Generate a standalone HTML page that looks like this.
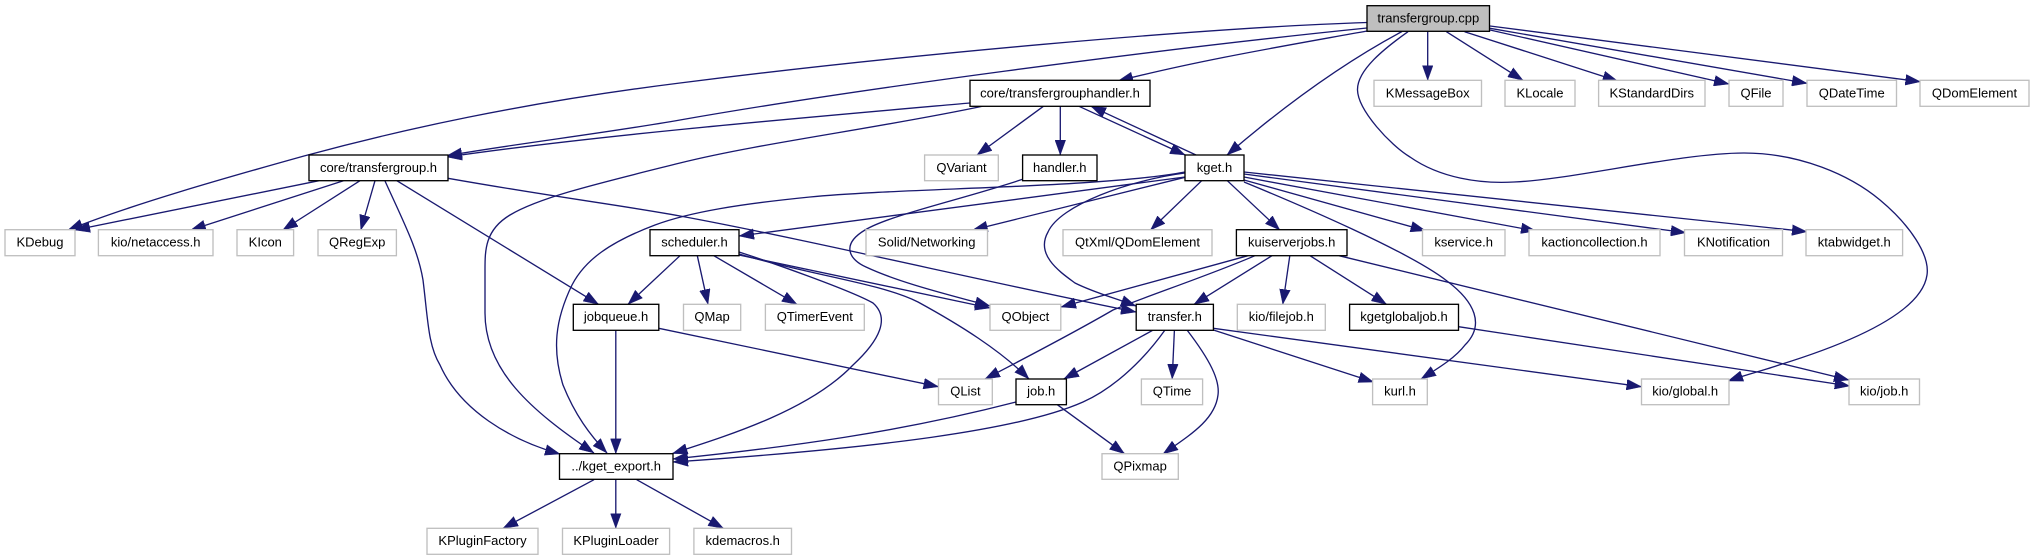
<!DOCTYPE html>
<html><head><meta charset="utf-8"><style>
html,body{margin:0;padding:0;background:#fff}
svg{display:block;filter:blur(0.35px)}
text{font-family:"Liberation Sans",Arial,sans-serif;font-size:13px;fill:#000;text-anchor:middle;transform:translateY(-0.7px)}
.g{fill:#fff;stroke:#bfbfbf;stroke-width:1.33}
.b{fill:#fff;stroke:#000;stroke-width:1.33}
.r{fill:#bfbfbf;stroke:#000;stroke-width:1.33}
path{fill:none;stroke:#191970;stroke-width:1.33;marker-end:url(#a)}
</style></head><body>
<svg width="2034" height="560" viewBox="0 0 2034 560" xmlns="http://www.w3.org/2000/svg">
<defs><marker id="a" markerUnits="userSpaceOnUse" markerWidth="15" markerHeight="11" viewBox="0 0 14.5 10.4" refX="14.5" refY="5.2" orient="auto"><polygon points="0,0 14.5,5.2 0,10.4" fill="#191970" stroke="#191970" stroke-width="0.4"/></marker></defs>

<!-- edges from root -->
<path d="M1367,22.5C1200,28 900,55 680,83C520,103 400,130 304,156C225,178 130,205 68,230"/>
<path d="M1367,28C1150,50 850,90 680,120C600,134 520,143 447,155.7"/>
<path d="M1367,31C1290,45 1200,60 1118,81"/>
<path d="M1402,31.5C1345,62 1285,105 1227,155"/>
<path d="M1408,31.7C1385,48 1357,70 1357.5,90C1358,110 1390,145 1410,157C1440,178 1480,184 1514,182C1570,180 1680,153 1744,153C1800,153 1850,175 1880,200C1910,225 1930,255 1927,275C1922,310 1860,340 1779,365C1765,370 1745,375 1728,381"/>
<path d="M1427.7,31.3L1427.7,80.3"/>
<path d="M1446.4,31.7L1523,80.3"/>
<path d="M1464.6,31.7L1617.7,81"/>
<path d="M1490,30L1729,84"/>
<path d="M1490,28.3L1807,83.3"/>
<path d="M1490,26L1920.4,81.7"/>

<!-- handler -->
<path d="M970,103C800,118 600,135 447,157"/>
<path d="M1043.4,106.3L977,155"/>
<path d="M1060.3,106.3L1060.3,155"/>
<path d="M1079,106.3L1185.2,155"/>
<path d="M1196,155L1091,106.3"/>
<path d="M983.6,106C880,128 760,143 680,163C600,183 540,197 510,215C485,230 485,250 485,270L485,313C485,370 530,410 594,453"/>
<path d="M1022.6,179.3C960,200 890,215 865,230C840,245 850,260 866,267C900,283 950,295 990,306"/>

<!-- kget -->
<path d="M1185,173C1130,180 1060,205 1048,232C1035,255 1060,272 1075,283C1095,293 1115,298 1136,306"/>
<path d="M1185,177L739,236"/>
<path d="M1185,172C1100,188 900,188 810,197C740,204 690,212 655,225C610,242 585,260 572,285C555,320 552,350 563,385C575,415 590,435 607,453"/>
<path d="M1185,177.3L972.7,230"/>
<path d="M1201.7,180.7L1150.5,230"/>
<path d="M1227.3,180.7L1279.8,230"/>
<path d="M1244,180L1425.6,230.7"/>
<path d="M1244,177L1536,231"/>
<path d="M1244,174L1685.8,232.7"/>
<path d="M1244,172L1807,231.7"/>
<path d="M1244,182C1300,205 1410,252 1447,281C1475,302 1485,325 1465,345C1455,358 1440,367 1421,379"/>

<!-- transfergroup -->
<path d="M448,178.3C560,198 620,205 680,216C800,238 1000,285 1136,312"/>
<path d="M319,180.7L75,230"/>
<path d="M343.5,180.7L190.8,230"/>
<path d="M360,180.7L282.8,230"/>
<path d="M375,180.7L360.8,230"/>
<path d="M385,181C405,225 418,250 423,280C428,320 428,345 440,365C460,410 510,440 560,454"/>
<path d="M396.8,180.7L598.5,304.3"/>

<!-- scheduler -->
<path d="M680,255.7L628,304.3"/>
<path d="M697.3,255.7L708,304.3"/>
<path d="M713.8,255.7L797,304.3"/>
<path d="M739,255L990,308"/>
<path d="M739,254C810,275 880,283 918,302C960,325 1000,350 1029,379"/>
<path d="M739,252C770,262 850,290 873,303C890,318 880,340 853,365C810,410 730,435 672.5,453.5"/>

<!-- jobqueue -->
<path d="M615.8,330.3L615.8,453.7"/>
<path d="M658.8,328.3L938.5,386.7"/>

<!-- kuiserverjobs -->
<path d="M1248,255.7L1061,307"/>
<path d="M1255,255.7C1210,275 1150,295 1113,310C1070,335 1025,358 985,379"/>
<path d="M1272,255.7L1194,304.3"/>
<path d="M1289.8,255.7L1282.8,304.3"/>
<path d="M1310,255.7L1386.5,304.3"/>
<path d="M1339,255.7L1849,380"/>
<path d="M1458.5,326.7L1849.7,386"/>

<!-- transfer -->
<path d="M1152.7,330.3L1063.8,379"/>
<path d="M1165,330C1140,365 1110,390 1083,402C1020,430 880,448 673,462"/>
<path d="M1174.4,330.3L1172.2,379"/>
<path d="M1187,330C1210,360 1220,380 1218,395C1215,420 1190,435 1163,454"/>
<path d="M1213.4,330L1373.5,382"/>
<path d="M1213.4,328.3L1641.5,386.7"/>

<!-- job -->
<path d="M1016,402C900,432 790,447 673,459"/>
<path d="M1057.3,404.7L1124.5,453.7"/>

<!-- export -->
<path d="M594,479.7L503,528.3"/>
<path d="M615.8,479.7L615.8,528.3"/>
<path d="M636.7,479.7L723.4,528.3"/>

<!-- nodes: row 1 -->
<rect class="r" x="1367" y="5.7" width="122.5" height="25.6"/><text x="1428.3" y="23">transfergroup.cpp</text>
<!-- row 2 -->
<rect class="b" x="970" y="80.3" width="180" height="26"/><text x="1060" y="98">core/transfergrouphandler.h</text>
<rect class="g" x="1374" y="80.3" width="107.5" height="26"/><text x="1427.7" y="98">KMessageBox</text>
<rect class="g" x="1505" y="80.3" width="70" height="26"/><text x="1540" y="98">KLocale</text>
<rect class="g" x="1598.6" y="80.3" width="106.4" height="26"/><text x="1651.8" y="98">KStandardDirs</text>
<rect class="g" x="1729" y="80.3" width="54" height="26"/><text x="1756" y="98">QFile</text>
<rect class="g" x="1807" y="80.3" width="89.5" height="26"/><text x="1851.7" y="98">QDateTime</text>
<rect class="g" x="1920" y="80.3" width="109" height="26"/><text x="1974.5" y="98">QDomElement</text>
<!-- row 3 -->
<rect class="b" x="309" y="155" width="139" height="25.7"/><text x="378.5" y="172.5">core/transfergroup.h</text>
<rect class="g" x="924.6" y="155" width="73.7" height="25.7"/><text x="961.5" y="172.5">QVariant</text>
<rect class="b" x="1022.6" y="155" width="74.4" height="25.7"/><text x="1059.8" y="172.5">handler.h</text>
<rect class="b" x="1185" y="155" width="59" height="25.7"/><text x="1214.5" y="172.5">kget.h</text>
<!-- row 4 -->
<rect class="g" x="5" y="229.7" width="70" height="26"/><text x="40" y="247">KDebug</text>
<rect class="g" x="98.4" y="229.7" width="114.6" height="26"/><text x="155.7" y="247">kio/netaccess.h</text>
<rect class="g" x="237" y="229.7" width="56.6" height="26"/><text x="265.3" y="247">KIcon</text>
<rect class="g" x="318" y="229.7" width="78.4" height="26"/><text x="357.2" y="247">QRegExp</text>
<rect class="b" x="650" y="229.7" width="89" height="26"/><text x="694.5" y="247">scheduler.h</text>
<rect class="g" x="866" y="229.7" width="121.5" height="26"/><text x="926.7" y="247">Solid/Networking</text>
<rect class="g" x="1063" y="229.7" width="149" height="26"/><text x="1137.5" y="247">QtXml/QDomElement</text>
<rect class="b" x="1236.4" y="229.7" width="110.6" height="26"/><text x="1291.7" y="247">kuiserverjobs.h</text>
<rect class="g" x="1422.5" y="229.7" width="82.5" height="26"/><text x="1463.7" y="247">kservice.h</text>
<rect class="g" x="1529" y="229.7" width="131" height="26"/><text x="1594.5" y="247">kactioncollection.h</text>
<rect class="g" x="1684.5" y="229.7" width="98" height="26"/><text x="1733.5" y="247">KNotification</text>
<rect class="g" x="1806" y="229.7" width="96.6" height="26"/><text x="1854.3" y="247">ktabwidget.h</text>
<!-- row 5 -->
<rect class="b" x="573.3" y="304.3" width="85.5" height="26"/><text x="616" y="321.7">jobqueue.h</text>
<rect class="g" x="683.5" y="304.3" width="57.2" height="26"/><text x="712.1" y="321.7">QMap</text>
<rect class="g" x="765.4" y="304.3" width="98.9" height="26"/><text x="814.8" y="321.7">QTimerEvent</text>
<rect class="g" x="990" y="304.3" width="70.8" height="26"/><text x="1025.4" y="321.7">QObject</text>
<rect class="b" x="1136.2" y="304.3" width="77.2" height="26"/><text x="1174.8" y="321.7">transfer.h</text>
<rect class="g" x="1237.3" y="304.3" width="88" height="26"/><text x="1281.3" y="321.7">kio/filejob.h</text>
<rect class="b" x="1349.6" y="304.3" width="108.9" height="26"/><text x="1404" y="321.7">kgetglobaljob.h</text>
<!-- row 6 -->
<rect class="g" x="938.5" y="379" width="53.8" height="25.7"/><text x="965.4" y="396">QList</text>
<rect class="b" x="1016" y="379" width="50.4" height="25.7"/><text x="1041.2" y="396">job.h</text>
<rect class="g" x="1141.4" y="379" width="61.2" height="25.7"/><text x="1172" y="396">QTime</text>
<rect class="g" x="1372.6" y="379" width="54.7" height="25.7"/><text x="1400" y="396">kurl.h</text>
<rect class="g" x="1641.5" y="379" width="87.5" height="25.7"/><text x="1685.2" y="396">kio/global.h</text>
<rect class="g" x="1849" y="379" width="70.5" height="25.7"/><text x="1884.2" y="396">kio/job.h</text>
<!-- row 7 -->
<rect class="b" x="559.5" y="453.7" width="113.5" height="25.6"/><text x="616.2" y="471">../kget_export.h</text>
<rect class="g" x="1102" y="453.7" width="76.3" height="25.6"/><text x="1140.1" y="471">QPixmap</text>
<!-- row 8 -->
<rect class="g" x="427" y="528.3" width="111" height="26"/><text x="482.5" y="545.7">KPluginFactory</text>
<rect class="g" x="562.5" y="528.3" width="107.1" height="26"/><text x="616" y="545.7">KPluginLoader</text>
<rect class="g" x="693.9" y="528.3" width="97.6" height="26"/><text x="742.7" y="545.7">kdemacros.h</text>
</svg>
</body></html>
